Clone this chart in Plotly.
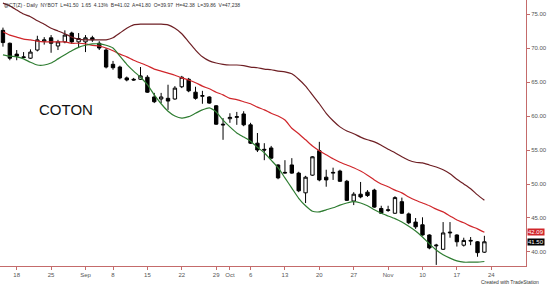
import pandas as pd
import plotly.graph_objects as go

# ---- data ----
holidays = ["2008-09-01"]
calendar = [d for d in pd.bdate_range("2008-08-14", "2008-12-05").strftime("%Y-%m-%d") if d not in holidays]
n_bars = 71
dates = calendar[:n_bars]

opens  = [72.6, 70.7, 69.1, 68.7, 68.5, 69.7, 71.0, 71.5, 70.3, 70.9,
          72.2, 70.9, 70.9, 71.5, 70.7, 69.7, 67.6, 67.2, 65.6, 65.4,
          65.4, 65.7, 62.8, 62.5, 62.6, 62.5, 64.3, 65.4, 63.5, 62.9,
          62.8, 61.5, 58.8, 59.6, 59.8, 60.3, 58.7, 56.0, 55.1, 55.3,
          52.8, 51.6, 52.8, 51.6, 48.7, 51.3, 54.9, 51.0, 51.6, 51.9,
          50.4, 47.5, 48.5, 48.8, 49.1, 46.4, 46.1, 45.7, 47.4, 45.6,
          44.4, 44.0, 42.5, 40.9, 40.4, 42.8, 42.5, 41.0, 41.6, 41.5,
          39.97]
highs  = [73.0, 70.8, 69.7, 69.4, 69.8, 71.8, 71.6, 71.9, 71.2, 72.6,
          72.4, 72.2, 71.9, 71.8, 71.0, 70.0, 68.1, 67.4, 65.8, 65.6,
          67.2, 66.0, 63.4, 63.4, 64.6, 64.4, 65.9, 65.6, 64.3, 63.7,
          62.9, 61.6, 59.7, 60.4, 60.6, 60.7, 59.0, 57.5, 56.0, 55.6,
          52.9, 53.5, 53.8, 51.8, 51.2, 54.1, 56.2, 52.1, 52.4, 52.1,
          50.6, 48.8, 50.3, 49.1, 49.3, 46.8, 46.8, 48.2, 48.0, 45.8,
          45.0, 45.1, 42.6, 41.2, 44.4, 44.4, 42.6, 42.1, 42.2, 41.6,
          42.38]
lows   = [70.2, 68.2, 68.2, 68.5, 68.4, 69.5, 70.5, 69.3, 69.7, 70.7,
          70.6, 70.0, 69.4, 70.9, 69.7, 67.0, 66.8, 65.4, 65.1, 65.2,
          65.3, 63.4, 61.9, 61.9, 60.9, 62.4, 64.1, 63.5, 62.4, 61.8,
          61.8, 58.7, 56.5, 59.0, 58.7, 58.5, 55.9, 54.7, 53.5, 53.7,
          50.7, 51.5, 51.5, 48.8, 47.2, 51.2, 50.4, 49.6, 50.6, 50.3,
          47.5, 46.9, 47.9, 48.1, 46.5, 45.6, 45.9, 45.6, 45.6, 44.1,
          43.4, 42.4, 40.4, 38.1, 40.3, 42.1, 40.8, 40.8, 41.0, 39.3,
          39.86]
closes = [70.8, 68.5, 68.8, 68.6, 69.4, 71.2, 71.2, 70.7, 70.9, 71.9,
          70.9, 71.4, 71.5, 71.2, 70.0, 67.2, 67.1, 65.6, 65.3, 65.3,
          65.9, 63.5, 62.1, 62.8, 62.2, 64.1, 65.7, 63.7, 62.6, 63.0,
          61.9, 58.8, 58.7, 59.8, 59.9, 58.7, 56.0, 55.0, 55.0, 53.8,
          50.9, 51.7, 51.6, 49.0, 51.0, 54.0, 50.6, 50.6, 51.7, 50.4,
          47.6, 48.5, 48.1, 48.3, 46.6, 45.7, 46.2, 48.0, 45.7, 44.3,
          43.7, 42.5, 40.6, 41.0, 42.8, 42.9, 41.5, 41.7, 41.7, 39.9,
          41.50]

upper_band = [76.6, 76.2, 75.6, 75.0, 74.6, 74.0, 73.5, 72.9, 72.5, 72.1,
              71.6, 71.3, 71.2, 71.2, 71.2, 71.2, 71.5, 72.2, 72.9, 73.4,
              73.5, 73.5, 73.5, 73.5, 73.4, 72.9, 72.1, 70.9, 69.7, 68.7,
              68.1, 67.8, 67.6, 67.5, 67.5, 67.4, 67.2, 67.1, 66.9, 66.8,
              66.6, 66.5, 66.2, 65.4, 64.4, 63.1, 61.8, 60.4, 59.3, 58.4,
              57.8, 57.4, 56.9, 56.5, 56.2, 55.7, 55.1, 54.6, 54.0, 53.5,
              53.2, 53.1, 52.8, 52.5, 52.1, 51.5, 50.7, 50.0, 49.3, 48.4,
              47.6]
middle_band = [72.4, 71.9, 71.6, 71.3, 71.2, 71.0, 70.9, 70.9, 70.9, 70.9,
               70.7, 70.7, 70.6, 70.4, 70.3, 70.0, 69.6, 69.1, 68.7, 68.2,
               67.8, 67.4, 66.9, 66.6, 66.3, 66.0, 65.6, 65.3, 64.9, 64.4,
               64.0, 63.5, 63.1, 62.6, 62.4, 62.1, 61.8, 61.3, 60.9, 60.4,
               60.0, 59.4, 58.2, 57.4, 56.5, 55.6, 54.9, 54.3, 53.7, 53.2,
               52.8, 52.4, 51.9, 51.3, 50.6, 50.0, 49.6, 49.1, 48.7, 48.1,
               47.6, 47.2, 46.8, 46.3, 45.9, 45.3, 44.7, 44.3, 43.8, 43.4,
               42.9]
lower_band = [69.0, 68.8, 68.7, 68.4, 67.9, 67.5, 67.5, 67.8, 68.4, 69.0,
              69.6, 70.1, 70.4, 70.6, 70.6, 70.4, 70.0, 68.8, 67.6, 66.6,
              65.7, 64.6, 63.1, 61.8, 60.7, 60.0, 59.7, 59.9, 60.4, 60.9,
              61.2, 60.6, 59.4, 58.4, 57.5, 56.9, 56.3, 55.4, 54.6, 53.5,
              52.4, 50.9, 49.4, 47.9, 46.8, 46.0, 45.9, 46.2, 46.5, 46.9,
              47.2, 47.4, 47.2, 46.8, 46.2, 45.7, 45.3, 44.9, 44.4, 43.8,
              43.1, 42.2, 41.2, 40.3, 39.6, 39.1, 38.7, 38.5, 38.5, 38.5,
              38.6]

tick_dates = ["2008-08-18", "2008-08-25", "2008-09-02", "2008-09-08", "2008-09-15",
              "2008-09-22", "2008-09-29", "2008-10-01", "2008-10-06", "2008-10-13",
              "2008-10-20", "2008-10-27", "2008-11-03", "2008-11-10", "2008-11-17",
              "2008-11-24"]
tick_text = ["18", "25", "Sep", "8", "15", "22", "29", "Oct", "6", "13", "20", "27",
             "Nov", "10", "17", "24"]
y_ticks = [40, 45, 50, 55, 60, 65, 70, 75]

title_text = "@CT(Z) - Daily  NYBOT  L=41.50  1.65  4.13%  B=41.02  A=41.80  O=39.97  H=42.38  L=39.86  V=47,238"
last_mid_label = "42.09"
last_price_label = "41.50"

# ---- figure ----
x = [calendar.index(d) for d in dates]
tick_pos = [calendar.index(d) for d in tick_dates]

fig = go.Figure()
band_specs = [(upper_band, "#6e1f24"), (middle_band, "#d0262b"), (lower_band, "#2f7d32")]
for vals, col in band_specs:
    fig.add_trace(go.Scatter(x=x, y=vals, mode="lines",
                             line=dict(color=col, width=1.2, shape="spline", smoothing=0.6),
                             hoverinfo="skip", showlegend=False))

fig.add_trace(go.Candlestick(
    x=x, open=opens, high=highs, low=lows, close=closes,
    increasing=dict(line=dict(color="#000000", width=1), fillcolor="#ffffff"),
    decreasing=dict(line=dict(color="#000000", width=1), fillcolor="#000000"),
    whiskerwidth=0, showlegend=False))

axis_col = "#c46b6b"
fig.update_layout(
    width=547, height=288,
    margin=dict(l=0, r=17, t=0, b=22),
    paper_bgcolor="#ffffff", plot_bgcolor="#ffffff",
    font=dict(family="Arial, Liberation Sans, sans-serif", color="#555555"),
    showlegend=False,
    xaxis=dict(range=[-0.43, 76.05], tickmode="array", tickvals=tick_pos, ticktext=tick_text,
               showgrid=False, zeroline=False, showline=True, linecolor=axis_col, linewidth=1,
               ticks="outside", ticklen=3, tickcolor=axis_col, tickfont=dict(size=6, color="#555555"),
               rangeslider=dict(visible=False), mirror=False),
    yaxis=dict(range=[37.94, 77.06], side="right", tickmode="array", tickvals=y_ticks,
               tickformat=".2f", showgrid=False, zeroline=False, showline=True,
               linecolor=axis_col, linewidth=1, ticks="outside", ticklen=3, tickcolor=axis_col,
               tickfont=dict(size=6, color="#555555")),
)

fig.add_annotation(xref="paper", yref="paper", x=0.003, y=1.0, xanchor="left", yanchor="top",
                   text=title_text, showarrow=False, font=dict(size=5, color="#333333"))
fig.add_annotation(xref="paper", yref="y", x=0.07, y=61.0, xanchor="left", yanchor="middle",
                   text="COTON", showarrow=False,
                   font=dict(size=15, color="#111111", family="Arial, Liberation Sans, sans-serif"))
fig.add_annotation(xref="paper", yref="y", x=1.0, y=middle_band[-1], xanchor="left", yanchor="middle",
                   xshift=1, text=last_mid_label, showarrow=False, bgcolor="#d0262b",
                   font=dict(size=6, color="#ffffff"), borderpad=0)
fig.add_annotation(xref="paper", yref="y", x=1.0, y=closes[-1], xanchor="left", yanchor="middle",
                   xshift=1, text=last_price_label, showarrow=False, bgcolor="#000000",
                   font=dict(size=6, color="#ffffff"), borderpad=0)
fig.add_annotation(xref="paper", yref="paper", x=1.028, y=-0.062, xanchor="right", yanchor="middle",
                   text="Created with TradeStation", showarrow=False,
                   font=dict(size=5, color="#333333"))

fig.write_html("out.html")
